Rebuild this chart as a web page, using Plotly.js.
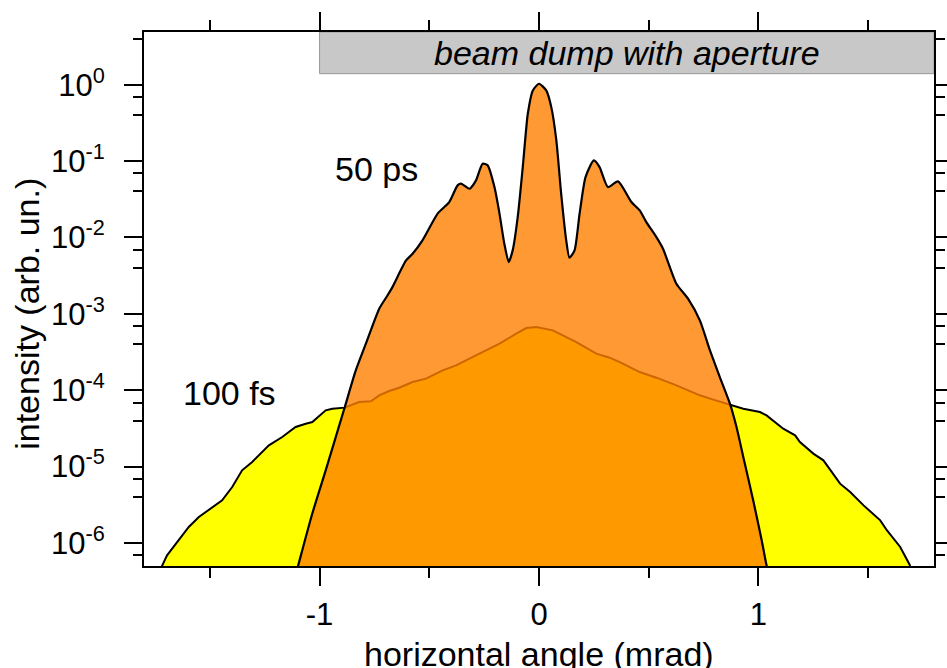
<!DOCTYPE html>
<html>
<head>
<meta charset="utf-8">
<script src="https://cdn.plot.ly/plotly-3.0.1.min.js"></script>
<style>
html,body{margin:0;padding:0;background:#fff;}
#chart{width:947px;height:668px;}
</style>
</head>
<body>
<div id="chart"></div>
<script>
// 50 ps profile (horizontal angle in mrad, intensity arb. un.)
var x50 = [-1.12, -1.098, -1.079, -1.033, -0.972, -0.885, -0.835, -0.789, -0.728, -0.690, -0.668, -0.606, -0.576, -0.531, -0.462, -0.409, -0.371, -0.355, -0.317, -0.287, -0.257, -0.234, -0.203, -0.180, -0.158, -0.138, -0.120, -0.097, -0.074, -0.051, -0.028, 0.0, 0.033, 0.056, 0.079, 0.101, 0.124, 0.139, 0.162, 0.185, 0.212, 0.250, 0.276, 0.314, 0.360, 0.421, 0.459, 0.489, 0.535, 0.565, 0.626, 0.679, 0.733, 0.779, 0.824, 0.870, 0.900, 0.931, 0.976, 1.015, 1.037, 1.06];
var y50 = [3e-7, 5.0e-7, 8.0e-7, 2.43e-6, 8.95e-6, 6.03e-5, 1.82e-4, 4.07e-4, 1.17e-3, 1.75e-3, 2.24e-3, 5.0e-3, 6.13e-3, 9.17e-3, 2.05e-2, 2.91e-2, 4.81e-2, 5.06e-2, 4.35e-2, 5.59e-2, 9.25e-2, 8.79e-2, 4.57e-2, 2.05e-2, 8.3e-3, 4.77e-3, 6.78e-3, 1.85e-2, 8.34e-2, 0.417, 0.842, 1.03, 0.842, 0.509, 0.187, 3.74e-2, 9.17e-3, 5.44e-3, 6.78e-3, 2.05e-2, 6.18e-2, 0.102, 8.34e-2, 4.57e-2, 5.42e-2, 2.91e-2, 2.26e-2, 1.59e-2, 1.01e-2, 7.13e-3, 2.48e-3, 1.58e-3, 8.22e-4, 3.33e-4, 1.49e-4, 6.68e-5, 3.30e-5, 1.34e-5, 3.62e-6, 1.08e-6, 5.1e-7, 3e-7];

// 100 fs profile
var x100 = [-1.733, -1.718, -1.695, -1.642, -1.596, -1.550, -1.489, -1.444, -1.398, -1.353, -1.307, -1.231, -1.170, -1.109, -1.063, -1.033, -0.972, -0.942, -0.885, -0.820, -0.766, -0.728, -0.683, -0.637, -0.576, -0.515, -0.439, -0.378, -0.317, -0.257, -0.211, -0.180, -0.104, -0.058, -0.013, 0.063, 0.170, 0.261, 0.322, 0.368, 0.459, 0.535, 0.626, 0.733, 0.794, 0.870, 0.931, 1.007, 1.037, 1.113, 1.167, 1.189, 1.250, 1.296, 1.372, 1.418, 1.479, 1.555, 1.585, 1.646, 1.689, 1.715];
var y100 = [3e-7, 5.0e-7, 6.9e-7, 1.08e-6, 1.62e-6, 2.19e-6, 2.96e-6, 3.62e-6, 5.41e-6, 8.95e-6, 1.15e-5, 1.90e-5, 2.44e-5, 3.30e-5, 3.65e-5, 3.84e-5, 5.46e-5, 5.74e-5, 5.92e-5, 7.01e-5, 7.16e-5, 8.58e-5, 9.77e-5, 1.08e-4, 1.28e-4, 1.42e-4, 1.82e-4, 2.12e-4, 2.59e-4, 3.17e-4, 3.76e-4, 4.07e-4, 5.5e-4, 6.52e-4, 6.72e-4, 6.08e-4, 4.27e-4, 3.01e-4, 2.67e-4, 2.34e-4, 1.73e-4, 1.46e-4, 1.16e-4, 8.58e-5, 7.53e-5, 6.53e-5, 5.74e-5, 5.19e-5, 4.69e-5, 3.14e-5, 2.57e-5, 2.10e-5, 1.48e-5, 1.21e-5, 5.98e-6, 4.66e-6, 3.11e-6, 1.98e-6, 1.47e-6, 8.87e-7, 5.2e-7, 3e-7];

// axis ticks
var yTickExp = [-6, -5, -4, -3, -2, -1, 0];
var yTickVals = yTickExp.map(function(e){ return Math.pow(10, e); });
var yTickText = yTickExp.map(function(e){ return '10<sup>' + e + '</sup>'; });
var yMinorFactors = [0.69, 0.4];
var yMinorVals = [];
[-6, -5, -4, -3, -2, -1, 0, 1].forEach(function(e){
  yMinorFactors.forEach(function(f){ yMinorVals.push(f * Math.pow(10, e)); });
});

var FONT = 'Liberation Sans, Arial, sans-serif';

var traces = [
  {
    x: x100, y: y100, type: 'scatter', mode: 'lines',
    fill: 'tozeroy', fillcolor: '#ffff00',
    line: {color: '#000', width: 2},
    hoverinfo: 'skip', name: '100 fs'
  },
  {
    x: x50, y: y50, type: 'scatter', mode: 'lines',
    fill: 'tozeroy', fillcolor: 'rgba(255,128,0,0.8)',
    line: {color: '#000', width: 2.2, shape: 'spline', smoothing: 0.6},
    hoverinfo: 'skip', name: '50 ps'
  }
];

var layout = {
  width: 947, height: 668,
  margin: {l: 144, r: 13, t: 32, b: 102},
  paper_bgcolor: '#fff', plot_bgcolor: '#fff',
  showlegend: false,
  font: {family: FONT, size: 31, color: '#000'},
  xaxis: {
    range: [-1.8, 1.8],
    tickmode: 'array', tickvals: [-1, 0, 1], ticktext: ['-1', '0', '1'],
    ticks: 'outside', ticklen: 18, tickwidth: 2, tickcolor: '#000',
    minor: {dtick: 0.5, tick0: 0, ticks: 'outside', ticklen: 10, tickwidth: 2, tickcolor: '#000', showgrid: false},
    showline: true, linecolor: '#000', linewidth: 2, mirror: 'allticks',
    showgrid: false, zeroline: false,
    tickfont: {family: FONT, size: 31, color: '#000'},
    ticklabelstandoff: 2
  },
  yaxis: {
    type: 'log',
    range: [Math.log10(5e-7), Math.log10(4.9)],
    tickmode: 'array', tickvals: yTickVals, ticktext: yTickText,
    ticks: 'outside', ticklen: 18, tickwidth: 2, tickcolor: '#000',
    minor: {tickmode: 'array', tickvals: yMinorVals, ticks: 'outside', ticklen: 9, tickwidth: 2, tickcolor: '#000', showgrid: false},
    showline: true, linecolor: '#000', linewidth: 2, mirror: 'allticks',
    showgrid: false, zeroline: false,
    tickfont: {family: FONT, size: 31, color: '#000'},
    ticklabelstandoff: 13
  },
  shapes: [
    {type: 'rect', xref: 'x', yref: 'paper', x0: -1, x1: 1.8, y0: 0.922, y1: 1,
     fillcolor: '#c8c8c8', line: {color: '#999', width: 1}, layer: 'below'}
  ],
  annotations: [
    {text: '<i>beam dump with aperture</i>', xref: 'x', yref: 'paper', x: 0.4, y: 0.961,
     xanchor: 'center', yanchor: 'middle', showarrow: false,
     font: {family: FONT, size: 34, color: '#000'}},
    {text: '50 ps', xref: 'x', yref: 'y', x: -0.742, y: -1.10,
     xanchor: 'center', yanchor: 'middle', showarrow: false,
     font: {family: FONT, size: 34, color: '#000'}},
    {text: '100 fs', xref: 'x', yref: 'y', x: -1.409, y: -4.04,
     xanchor: 'center', yanchor: 'middle', showarrow: false,
     font: {family: FONT, size: 34, color: '#000'}},
    {text: 'horizontal angle (mrad)', xref: 'paper', yref: 'paper', x: 0.5, y: -0.126,
     xanchor: 'center', yanchor: 'top', showarrow: false,
     font: {family: FONT, size: 34, color: '#000'}},
    {text: 'intensity (arb. un.)', xref: 'paper', yref: 'paper', x: -0.1476, y: 0.473,
     xanchor: 'center', yanchor: 'middle', textangle: -90, showarrow: false,
     font: {family: FONT, size: 34, color: '#000'}}
  ]
};

Plotly.newPlot('chart', traces, layout, {staticPlot: true, displayModeBar: false});
</script>
</body>
</html>
